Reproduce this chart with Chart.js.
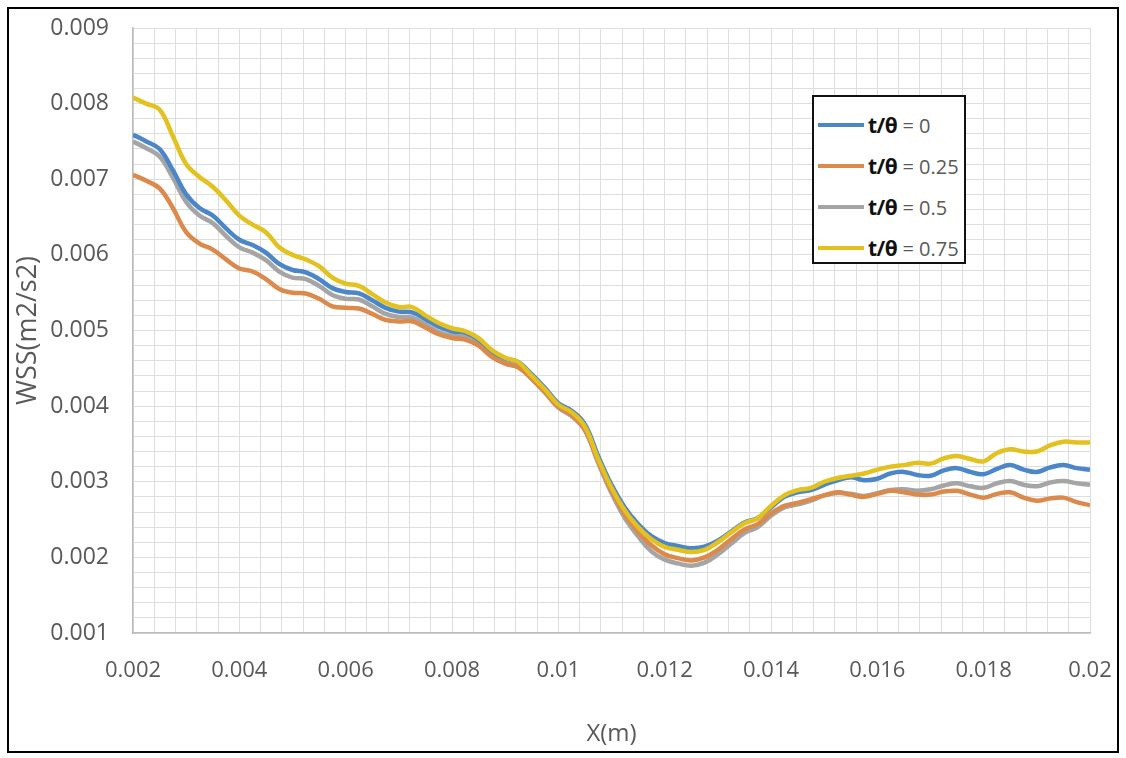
<!DOCTYPE html>
<html>
<head>
<meta charset="utf-8">
<script src="https://cdn.jsdelivr.net/npm/chart.js@4.4.1/dist/chart.umd.min.js"></script>
<style>
  html, body { margin: 0; padding: 0; background: #fff; }
  #wrap { position: relative; width: 1126px; height: 758px; }
  #frame { position: absolute; left: 7px; top: 7px; width: 1112px; height: 746px; box-sizing: border-box; border: 2.5px solid #000; pointer-events: none; }
  #legend { position: absolute; left: 812px; top: 95px; width: 154px; height: 169px; box-sizing: border-box; border: 2px solid #111; background: #fff; font-family: "Open Sans", sans-serif; }
  .item { position: absolute; left: 4px; height: 30px; display: flex; align-items: center; white-space: nowrap; }
  .swatch { width: 46px; height: 4px; margin-right: 4px; }
  .lbl b { color: #111; font-size: 21px; font-weight: 700; letter-spacing: -0.5px; }
  .lbl span { color: #595959; font-size: 20px; }
</style>
</head>
<body>
<div id="wrap">
  <canvas id="wssChart" width="1126" height="758"></canvas>
  <div id="legend"></div>
  <div id="frame"></div>
</div>
<script>
// x positions along the wall (m)
const xPositions = [
  0.002, 0.00225, 0.0025, 0.00275, 0.003, 0.00325, 0.0035, 0.00375,
  0.004, 0.00425, 0.0045, 0.00475, 0.005, 0.00525, 0.0055, 0.00575,
  0.006, 0.00625, 0.0065, 0.00675, 0.007, 0.00725, 0.0075, 0.00775,
  0.008, 0.00825, 0.0085, 0.00875, 0.009, 0.00925, 0.0095, 0.00975,
  0.01, 0.01025, 0.0105, 0.01075, 0.011, 0.01125, 0.0115, 0.01175,
  0.012, 0.01225, 0.0125, 0.01275, 0.013, 0.01325, 0.0135, 0.01375,
  0.014, 0.01425, 0.0145, 0.01475, 0.015, 0.01525, 0.0155, 0.01575,
  0.016, 0.01625, 0.0165, 0.01675, 0.017, 0.01725, 0.0175, 0.01775,
  0.018, 0.01825, 0.0185, 0.01875, 0.019, 0.01925, 0.0195, 0.01975,
  0.02
];

// WSS series, one per time fraction
const wssT0 = [
  0.00759, 0.00750, 0.00740, 0.00712, 0.00680, 0.00662, 0.00652, 0.00635,
  0.00620, 0.00613, 0.00603, 0.00588, 0.00580, 0.00577, 0.00568, 0.00556,
  0.00551, 0.00549, 0.00540, 0.00530, 0.00525, 0.00524, 0.00515, 0.00505,
  0.00499, 0.00497, 0.00488, 0.00472, 0.00463, 0.00458, 0.00442, 0.00424,
  0.00404, 0.00394, 0.00376, 0.00334, 0.00296, 0.00266, 0.00244, 0.00228,
  0.00219, 0.00215, 0.00212, 0.00214, 0.00222, 0.00234, 0.00246, 0.00252,
  0.00266, 0.00280, 0.00286, 0.00289, 0.00296, 0.00302, 0.00306, 0.00302,
  0.00304, 0.00311, 0.00313, 0.00309, 0.00308, 0.00315, 0.00318, 0.00313,
  0.00310, 0.00317, 0.00322, 0.00316, 0.00313, 0.00319, 0.00322, 0.00318,
  0.00316
];
const wssT025 = [
  0.00706, 0.00698, 0.00688, 0.00662, 0.00630, 0.00615, 0.00607, 0.00594,
  0.00582, 0.00578, 0.00568, 0.00555, 0.00550, 0.00549, 0.00542, 0.00532,
  0.00530, 0.00529, 0.00522, 0.00514, 0.00512, 0.00512, 0.00504, 0.00495,
  0.00490, 0.00488, 0.00480, 0.00465, 0.00456, 0.00451, 0.00436, 0.00418,
  0.00399, 0.00388, 0.00369, 0.00327, 0.00288, 0.00257, 0.00234, 0.00216,
  0.00204, 0.00199, 0.00196, 0.00200, 0.00210, 0.00224, 0.00237, 0.00244,
  0.00258, 0.00268, 0.00272, 0.00277, 0.00282, 0.00286, 0.00283, 0.00280,
  0.00284, 0.00288, 0.00286, 0.00283, 0.00283, 0.00287, 0.00288, 0.00283,
  0.00279, 0.00284, 0.00286, 0.00279, 0.00275, 0.00278, 0.00279, 0.00273,
  0.00269
];
const wssT05 = [
  0.00750, 0.00741, 0.00730, 0.00702, 0.00670, 0.00652, 0.00642, 0.00625,
  0.00610, 0.00603, 0.00593, 0.00578, 0.00570, 0.00568, 0.00559, 0.00547,
  0.00542, 0.00541, 0.00532, 0.00522, 0.00518, 0.00517, 0.00508, 0.00498,
  0.00493, 0.00491, 0.00482, 0.00466, 0.00457, 0.00452, 0.00436, 0.00418,
  0.00398, 0.00387, 0.00368, 0.00325, 0.00285, 0.00252, 0.00228, 0.00208,
  0.00197, 0.00192, 0.00189, 0.00193, 0.00204, 0.00218, 0.00232, 0.00240,
  0.00255, 0.00266, 0.00270, 0.00275, 0.00282, 0.00285, 0.00284, 0.00281,
  0.00285, 0.00289, 0.00290, 0.00288, 0.00290, 0.00295, 0.00298, 0.00294,
  0.00292, 0.00298, 0.00301, 0.00296, 0.00294, 0.00299, 0.00301, 0.00298,
  0.00296
];
const wssT075 = [
  0.00808, 0.00800, 0.00792, 0.00757, 0.00720, 0.00703, 0.00690, 0.00672,
  0.00652, 0.00640, 0.00630, 0.00610, 0.00600, 0.00594, 0.00585, 0.00570,
  0.00562, 0.00559, 0.00548, 0.00537, 0.00531, 0.00531, 0.00520, 0.00510,
  0.00503, 0.00499, 0.00490, 0.00474, 0.00464, 0.00458, 0.00440, 0.00422,
  0.00402, 0.00392, 0.00373, 0.00330, 0.00292, 0.00262, 0.00240, 0.00224,
  0.00214, 0.00210, 0.00207, 0.00210, 0.00220, 0.00233, 0.00245, 0.00252,
  0.00268, 0.00282, 0.00289, 0.00292, 0.00300, 0.00305, 0.00308, 0.00311,
  0.00316, 0.00320, 0.00322, 0.00325, 0.00324, 0.00331, 0.00334, 0.00330,
  0.00327, 0.00338, 0.00343, 0.00340, 0.00340, 0.00348, 0.00353, 0.00352,
  0.00352
];

const seriesNames = ['0', '0.25', '0.5', '0.75'];
const xTickLabels = ['0.002', '0.004', '0.006', '0.008', '0.01', '0.012', '0.014', '0.016', '0.018', '0.02'];
const yTickLabels = ['0.001', '0.002', '0.003', '0.004', '0.005', '0.006', '0.007', '0.008', '0.009'];

const colors = ['#4a86c8', '#db8a4b', '#a5a5a5', '#e3c11e'];
const drawOrder = [2, 1, 3, 0];
const allSeries = [wssT0, wssT025, wssT05, wssT075];

const gridColor = '#dedede';
const textColor = '#595959';
const font = '"Open Sans", sans-serif';

const ctx = document.getElementById('wssChart').getContext('2d');
const chart = new Chart(ctx, {
  type: 'line',
  data: {
    datasets: allSeries.map((vals, i) => ({
      label: 't/θ = ' + seriesNames[i],
      data: vals.map((v, j) => ({ x: xPositions[j], y: v })),
      borderColor: colors[i],
      borderWidth: 4.5,
      pointRadius: 0,
      tension: 0.4,
      order: drawOrder[i]
    }))
  },
  options: {
    responsive: false,
    animation: false,
    layout: { padding: { left: 10, top: 28, right: 36, bottom: 8 } },
    plugins: {
      legend: { display: false },
      tooltip: { enabled: false }
    },
    scales: {
      x: {
        type: 'linear',
        min: 0.002,
        max: 0.02,
        afterFit: (scale) => {
          scale.height = 117;
          scale.paddingLeft = 0;
          scale.paddingRight = 0;
        },
        ticks: {
          stepSize: 0.0004,
          autoSkip: false,
          maxRotation: 0,
          padding: 25,
          color: textColor,
          font: { family: font, size: 22 },
          callback: (value, index) => index % 5 === 0 ? xTickLabels[index / 5] : ''
        },
        grid: { color: gridColor, drawTicks: false },
        border: { color: '#bcbcbc', width: 1.5 },
        title: {
          display: true,
          text: 'X(m)',
          color: textColor,
          font: { family: font, size: 24 },
          padding: { top: 0, bottom: 1 }
        }
      },
      y: {
        min: 0.001,
        max: 0.009,
        afterFit: (scale) => {
          scale.width = 123;
          scale.paddingTop = 0;
          scale.paddingBottom = 0;
        },
        ticks: {
          stepSize: 0.0002,
          autoSkip: false,
          padding: 24,
          color: textColor,
          font: { family: font, size: 23 },
          callback: (value, index) => index % 5 === 0 ? yTickLabels[index / 5] : ''
        },
        grid: { color: gridColor, drawTicks: false },
        border: { color: '#bcbcbc', width: 1.5 },
        title: {
          display: true,
          text: 'WSS(m2/s2)',
          color: textColor,
          font: { family: font, size: 27 },
          padding: { top: 2, bottom: 0 }
        }
      }
    }
  }
});

// legend box drawn inside the plot, built from the datasets
const legendEl = document.getElementById('legend');
chart.data.datasets.forEach((ds, i) => {
  const item = document.createElement('div');
  item.className = 'item';
  item.style.top = (13 + i * 41) + 'px';
  item.innerHTML = '<div class="swatch" style="background:' + ds.borderColor + '"></div>' +
    '<div class="lbl"><b>t/θ</b><span> = ' + seriesNames[i] + '</span></div>';
  legendEl.appendChild(item);
});
</script>
</body>
</html>
